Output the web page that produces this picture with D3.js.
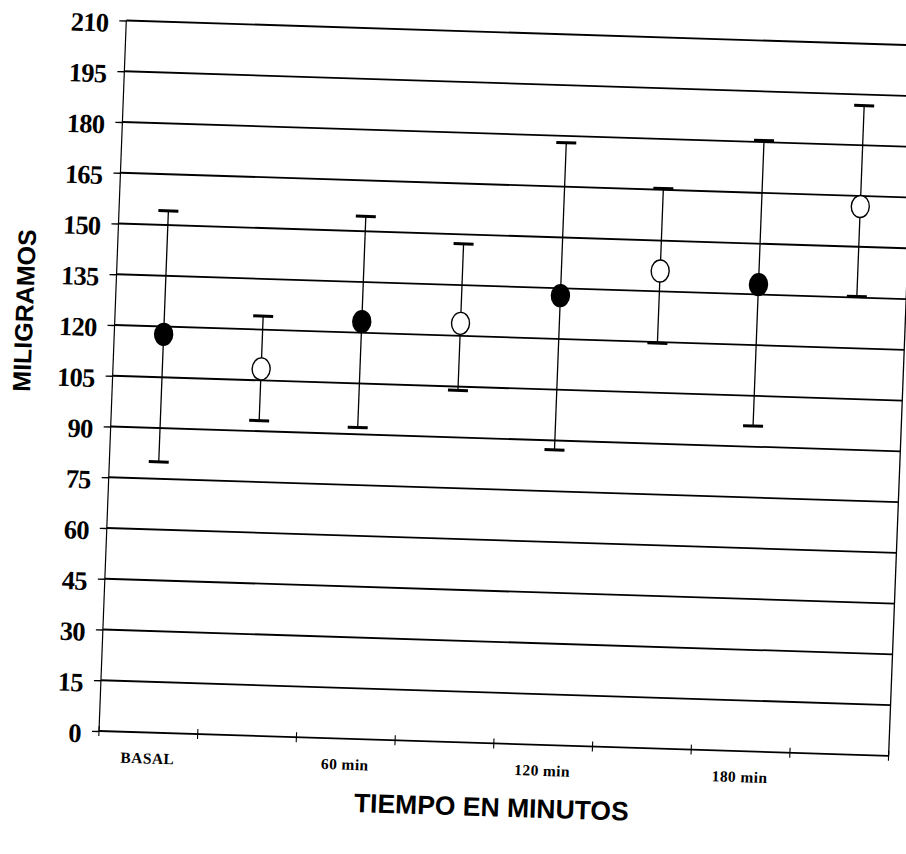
<!DOCTYPE html>
<html>
<head>
<meta charset="utf-8">
<script src="https://cdn.jsdelivr.net/npm/d3@7/dist/d3.min.js"></script>
<style>
  html, body { margin: 0; padding: 0; background: #fff; }
  svg { display: block; }
</style>
</head>
<body>
<svg id="chart" width="906" height="854"></svg>
<script>
// ---- data ----
const categories = ["BASAL", "", "60 min", "", "120 min", "", "180 min", ""];
const groups     = ["filled", "open", "filled", "open", "filled", "open", "filled", "open"];
const means      = [117.7, 108.4, 123.3, 123.7, 132.8, 141.0, 137.9, 161.9];
const upper      = [154.2, 124.0, 154.4, 147.2, 178.0, 165.4, 180.5, 191.7];
const lower      = [80.0, 93.1, 92.0, 103.9, 87.2, 119.7, 96.1, 135.3];
const yTicks     = [0, 15, 30, 45, 60, 75, 90, 105, 120, 135, 150, 165, 180, 195, 210];
const yTitle = "MILIGRAMOS";
const xTitle = "TIEMPO EN MINUTOS";

// ---- layout ----
const W = 790, H = 711;
const svg = d3.select("#chart");
const g = svg.append("g")
  .attr("transform", "translate(99,731) rotate(1.8) skewX(-0.4) translate(0," + (-H) + ")");

const x = d3.scaleBand().domain(d3.range(categories.length)).range([0, W]).padding(0);
const y = d3.scaleLinear().domain([0, 210]).range([H, 0]);

const serif = "'Liberation Serif','Times New Roman',serif";
const sans = "'Liberation Sans',Arial,sans-serif";

// gridlines (incl. baseline) with left tick stubs
const yAxis = d3.axisLeft(y).tickValues(yTicks).tickSize(7).tickPadding(11).tickFormat(d3.format("d"));
const ya = g.append("g").call(yAxis);
ya.select(".domain").remove();
ya.selectAll(".tick line").attr("stroke", "#000").attr("stroke-width", 1.3);
ya.selectAll(".tick text")
  .attr("font-family", serif).attr("font-weight", "bold").attr("font-size", 26.5)
  .attr("letter-spacing", -0.8).attr("fill", "#000").attr("dy", "0.42em");

g.append("g").selectAll("line.grid").data(yTicks).join("line")
  .attr("class", "grid")
  .attr("x1", 0).attr("x2", W)
  .attr("y1", d => y(d)).attr("y2", d => y(d))
  .attr("stroke", "#000").attr("stroke-width", 1.8);

// y axis line and right border
g.append("line").attr("x1", 0).attr("x2", 0).attr("y1", 0).attr("y2", H)
  .attr("stroke", "#000").attr("stroke-width", 1.2);
g.append("line").attr("x1", W).attr("x2", W).attr("y1", 0).attr("y2", H)
  .attr("stroke", "#000").attr("stroke-width", 1.3);

// x ticks at band boundaries
const bounds = d3.range(categories.length).map(i => x(i)).concat([W]);
g.append("g").selectAll("line").data(bounds).join("line")
  .attr("x1", d => d).attr("x2", d => d)
  .attr("y1", H - 5).attr("y2", H + 5)
  .attr("stroke", "#000").attr("stroke-width", 1.1);

// x labels
g.append("g").selectAll("text").data(categories).join("text")
  .attr("x", (d, i) => x(i) + x.bandwidth() / 2)
  .attr("y", H + 31)
  .attr("text-anchor", "middle")
  .attr("font-family", serif).attr("font-weight", "bold").attr("font-size", 15.5)
  .attr("letter-spacing", 0.4)
  .text(d => d);

// error bars
const idx = d3.range(means.length);
const cx = i => x(i) + x.bandwidth() / 2;
const eb = g.append("g");
eb.selectAll("line.stem").data(idx).join("line").attr("class", "stem")
  .attr("x1", cx).attr("x2", cx)
  .attr("y1", i => y(upper[i])).attr("y2", i => y(lower[i]))
  .attr("stroke", "#000").attr("stroke-width", 1.3);
eb.selectAll("line.capU").data(idx).join("line").attr("class", "capU")
  .attr("x1", i => cx(i) - 10).attr("x2", i => cx(i) + 10)
  .attr("y1", i => y(upper[i])).attr("y2", i => y(upper[i]))
  .attr("stroke", "#000").attr("stroke-width", 3);
eb.selectAll("line.capL").data(idx).join("line").attr("class", "capL")
  .attr("x1", i => cx(i) - 10).attr("x2", i => cx(i) + 10)
  .attr("y1", i => y(lower[i])).attr("y2", i => y(lower[i]))
  .attr("stroke", "#000").attr("stroke-width", 3);

// markers
g.append("g").selectAll("ellipse").data(idx).join("ellipse")
  .attr("cx", cx).attr("cy", i => y(means[i]))
  .attr("rx", 9).attr("ry", 11)
  .attr("fill", i => groups[i] === "filled" ? "#000" : "#fff")
  .attr("stroke", "#000").attr("stroke-width", 1.4);

// titles
g.append("text")
  .attr("transform", "translate(-82," + 293 + ") rotate(-90)")
  .attr("text-anchor", "middle")
  .attr("font-family", sans).attr("font-weight", "bold").attr("font-size", 25)
  .text(yTitle);
g.append("text")
  .attr("x", W / 2).attr("y", H + 73)
  .attr("text-anchor", "middle")
  .attr("font-family", sans).attr("font-weight", "bold").attr("font-size", 26.5)
  .text(xTitle);
</script>
</body>
</html>
